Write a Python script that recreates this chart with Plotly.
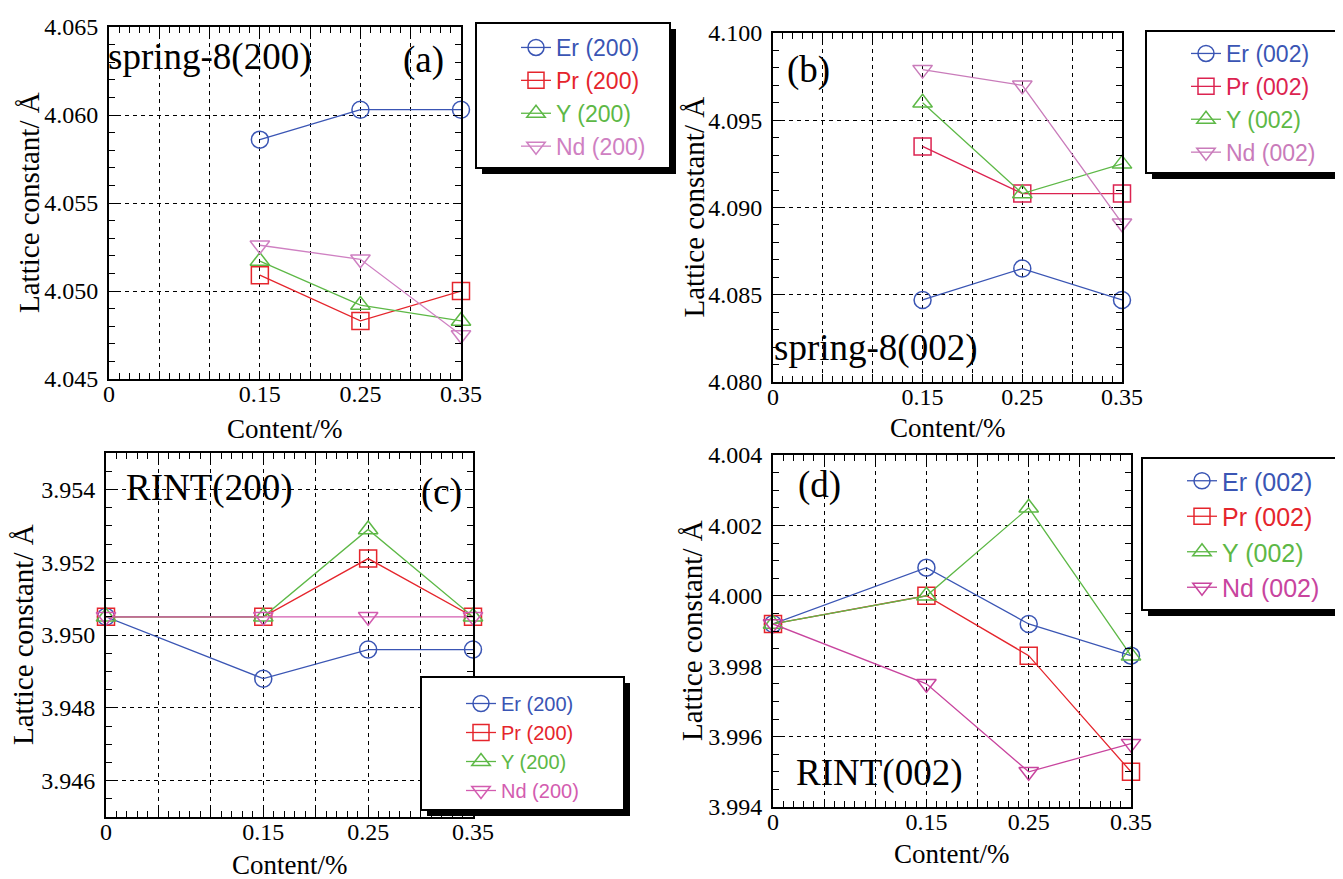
import plotly.graph_objects as go

# ---------------- data ----------------
x_spring = [0.15, 0.25, 0.35]
x_rint = [0, 0.15, 0.25, 0.35]

a_er = [4.0586, 4.0603, 4.0603]
a_pr = [4.0509, 4.0483, 4.0500]
a_y = [4.0517, 4.0492, 4.0483]
a_nd = [4.0526, 4.0518, 4.0475]

b_er = [4.0847, 4.0865, 4.0847]
b_pr = [4.0935, 4.0908, 4.0908]
b_y = [4.0960, 4.0908, 4.0925]
b_nd = [4.0979, 4.0970, 4.0891]

c_er = [3.9505, 3.9488, 3.9496, 3.9496]
c_pr = [3.9505, 3.9505, 3.9521, 3.9505]
c_y = [3.9505, 3.9505, 3.9529, 3.9505]
c_nd = [3.9505, 3.9505, 3.9505, 3.9505]

d_er = [3.9992, 4.0008, 3.9992, 3.9983]
d_pr = [3.9992, 4.0000, 3.9983, 3.9950]
d_y = [3.9992, 4.0000, 4.0025, 3.9983]
d_nd = [3.9992, 3.9975, 3.9950, 3.9958]

x_tickvals = [0, 0.05, 0.10, 0.15, 0.20, 0.25, 0.30, 0.35]
x_ticktext = ["0", "", "", "0.15", "", "0.25", "", "0.35"]
a_yticks = [4.045, 4.050, 4.055, 4.060, 4.065]
b_yticks = [4.080, 4.085, 4.090, 4.095, 4.100]
c_yticks = [3.946, 3.948, 3.950, 3.952, 3.954]
d_yticks = [3.994, 3.996, 3.998, 4.000, 4.002, 4.004]

elements = ["Er", "Pr", "Y", "Nd"]
symbols = ["circle-open", "square-open", "triangle-up-open", "triangle-down-open"]

# ---------------- layout helpers ----------------
W, H = 1343, 879
OFF = 8  # the page body adds an 8px margin around the plot div
def px(x):
    return (x - OFF) / W
def py(y):
    return 1 - (y - OFF) / H

SERIF = "Liberation Serif, Times New Roman, serif"
SANS = "Liberation Sans, Arial, sans-serif"

panels = [
    dict(key="", x=x_spring, series=[a_er, a_pr, a_y, a_nd], hkl="(200)",
         colors=["#3A55B4", "#E5252C", "#5DB846", "#CF80C2"],
         box=(109, 461, 27, 379), yr=[4.045, 4.065], yt=a_yticks, minor=0.001,
         leg=(476, 670, 23, 168), legfs=23, legdy=3, ytitle_x=29, xtitle_y=429),
    dict(key="2", x=x_spring, series=[b_er, b_pr, b_y, b_nd], hkl="(002)",
         colors=["#3A55B4", "#DC2350", "#5DB846", "#C97BBA"],
         box=(773, 1122, 33, 382), yr=[4.080, 4.100], yt=b_yticks, minor=0.001,
         leg=(1146, 1340, 31, 173), legfs=23, legdy=1, ytitle_x=694, xtitle_y=428),
    dict(key="3", x=x_rint, series=[c_er, c_pr, c_y, c_nd], hkl="(200)",
         colors=["#3A55B4", "#E5252C", "#5DB846", "#D35CB0"],
         box=(106, 473, 453, 817), yr=[3.945, 3.955], yt=c_yticks, minor=0.0005,
         leg=(421, 624, 677, 810), legfs=20, legdy=7, ytitle_x=23, xtitle_y=865),
    dict(key="4", x=x_rint, series=[d_er, d_pr, d_y, d_nd], hkl="(002)",
         colors=["#3A55B4", "#E5252C", "#5DB846", "#C8449E"],
         box=(773, 1131, 455, 807), yr=[3.994, 4.004], yt=d_yticks, minor=0.0005,
         leg=(1142, 1338, 458, 610), legfs=25, legdy=0, ytitle_x=692, xtitle_y=854),
]

fig = go.Figure()
layout = dict(width=W, height=H, margin=dict(l=0, r=0, t=0, b=0, autoexpand=False),
              paper_bgcolor="white", plot_bgcolor="white", showlegend=True)
shapes = []
annotations = []

for i, p in enumerate(panels):
    k = p["key"]
    xa = "x" + k
    ya = "y" + k
    legname = "legend" + k
    for el, sym, col, ys in zip(elements, symbols, p["colors"], p["series"]):
        fig.add_trace(go.Scatter(
            x=p["x"], y=ys, mode="lines+markers",
            name='<span style="color:%s">%s %s</span>' % (col, el, p["hkl"]),
            line=dict(color=col, width=1.3),
            marker=dict(symbol=sym, size=17, color=col, line=dict(width=1.5, color=col)),
            xaxis=xa, yaxis=ya, legend=legname, cliponaxis=False))
    x0, x1, y0, y1 = p["box"]
    common = dict(showline=True, linewidth=2, linecolor="black", mirror="ticks",
                  ticks="inside", ticklen=8, tickwidth=1.2, tickcolor="black",
                  showgrid=True, gridcolor="black", gridwidth=1, griddash="4px,4px",
                  zeroline=False, automargin=False,
                  tickfont=dict(family=SERIF, size=24, color="black"))
    layout["xaxis" + k] = dict(domain=[px(x0), px(x1)], range=[0, 0.35], anchor=ya,
                               tickmode="array", tickvals=x_tickvals, ticktext=x_ticktext,
                               ticklabelstandoff=-8,
                               minor=dict(dtick=0.01, tick0=0, ticks="inside", ticklen=6,
                                          tickcolor="black", tickwidth=1, showgrid=False),
                               **common)
    layout["yaxis" + k] = dict(domain=[py(y1), py(y0)], range=p["yr"], anchor=xa,
                               tickmode="array", tickvals=p["yt"],
                               ticktext=["%.3f" % v for v in p["yt"]],
                               ticklabelstandoff=4,
                               minor=dict(dtick=p["minor"], tick0=p["yr"][0], ticks="inside",
                                          ticklen=6, tickcolor="black", tickwidth=1, showgrid=False),
                               **common)
    lx0, lx1, ly0, ly1 = p["leg"]
    shapes.append(dict(type="rect", xref="paper", yref="paper",
                       x0=px(lx0 + 6), x1=px(lx1 + 6), y0=py(ly1 + 6), y1=py(ly0 + 6),
                       fillcolor="black", line=dict(width=0), layer="above"))
    shapes.append(dict(type="rect", xref="paper", yref="paper",
                       x0=px(lx0), x1=px(lx1), y0=py(ly1), y1=py(ly0),
                       fillcolor="white", line=dict(width=2, color="black"), layer="above"))
    layout[legname] = dict(x=px(lx0 + 40), y=py(ly0 + p["legdy"]), xanchor="left", yanchor="top",
                           bgcolor="rgba(0,0,0,0)", borderwidth=0,
                           font=dict(family=SANS, size=p["legfs"]), tracegroupgap=0,
                           itemsizing="trace")
    # axis titles
    annotations.append(dict(text="Content/%", xref="paper", yref="paper",
                            x=px((x0 + x1) / 2), y=py(p["xtitle_y"]), showarrow=False,
                            xanchor="center", yanchor="middle",
                            font=dict(family=SERIF, size=27, color="black")))
    annotations.append(dict(text="Lattice constant/ Å", xref="paper", yref="paper",
                            x=px(p["ytitle_x"]), y=py((y0 + y1) / 2), showarrow=False,
                            textangle=-90, xanchor="center", yanchor="middle",
                            font=dict(family=SERIF, size=29, color="black")))

# panel labels
panel_labels = [
    ("spring-8(200)", 106, 57), ("(a)", 401, 60),
    ("(b)", 785, 70), ("spring-8(002)", 772, 348),
    ("RINT(200)", 124, 488), ("(c)", 419, 492),
    ("(d)", 796, 485), ("RINT(002)", 794, 773),
]
for txt, lx, ly in panel_labels:
    annotations.append(dict(text=txt, xref="paper", yref="paper", x=px(lx), y=py(ly),
                            showarrow=False, xanchor="left", yanchor="middle",
                            font=dict(family=SERIF, size=37, color="black")))

layout["shapes"] = shapes
layout["annotations"] = annotations
fig.update_layout(**layout)
fig.write_html("out.html")
